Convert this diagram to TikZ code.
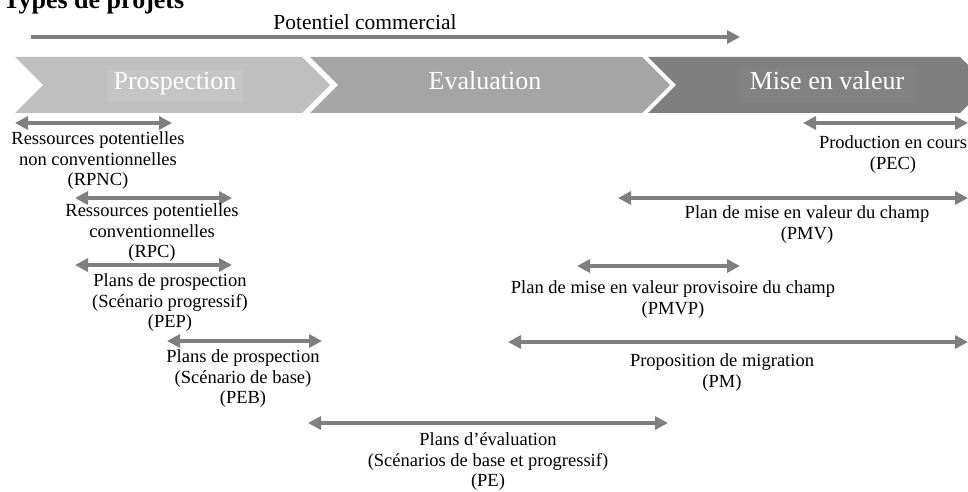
\documentclass[tikz,border=0pt]{standalone}
\usepackage{fontspec}
\setmainfont{Liberation Serif}
\usetikzlibrary{arrows.meta}

\definecolor{spangray}{HTML}{7F7F7F}
\definecolor{phaseA}{HTML}{BFBFBF}
\definecolor{phaseAbox}{HTML}{C5C5C5}
\definecolor{phaseB}{HTML}{A5A5A5}
\definecolor{phaseC}{HTML}{7F7F7F}
\definecolor{phaseCbox}{HTML}{828282}

\tikzset{
  span/.style={draw=spangray, line width=4.5pt,
    {Triangle[length=13pt,width=13pt]}-{Triangle[length=13pt,width=13pt]}},
  onearrow/.style={draw=spangray, line width=4.5pt,
    -{Triangle[length=13pt,width=13pt]}},
  phase/.style={draw=none},
  phaselabel/.style={text=white, inner sep=0pt, anchor=base,
    font=\fontsize{26}{30}\selectfont},
  lab/.style={align=center, anchor=north, inner sep=0pt,
    font=\fontsize{18.5}{20.5}\selectfont, execute at begin node=\strut},
}

\begin{document}
\begin{tikzpicture}[x=1pt, y=-1pt]
\useasboundingbox (0,0) rectangle (968,492);
\clip (0,0) rectangle (968,492);

% title
\node[anchor=base west, inner sep=0pt, font=\fontsize{26}{30}\selectfont\bfseries]
  (title) at (3,9) {Types de projets};

% commercial potential arrow
\node[anchor=base, inner sep=0pt, font=\fontsize{21.5}{25}\selectfont]
  (potentiel) at (365,30) {Potentiel commercial};
\coordinate (potL) at (31,37);
\coordinate (potR) at (740,37);
\draw[onearrow] (potL) -- (potR);

% phase chevrons
\fill[phaseA] (15,57) -- (302,57) -- (330,85) -- (302,113) -- (15,113) -- (43,85) -- cycle;
\fill[phaseB] (310,57) -- (642,57) -- (670,85) -- (642,113) -- (310,113) -- (338,85) -- cycle;
\fill[phaseC] (648,57) -- (960,57) -- (988,85) -- (960,113) -- (648,113) -- (676,85) -- cycle;
\fill[phaseAbox] (107,70) rectangle (243,102);
\fill[phaseCbox] (740,68) rectangle (915,103);
\node[phaselabel] (prosp) at (175,90) {Prospection};
\node[phaselabel] (eval) at (485,90) {Evaluation};
\node[phaselabel] (miseval) at (827,90) {Mise en valeur};

% span end points
\coordinate (rpncL) at (15,123);  \coordinate (rpncR) at (172,123);
\coordinate (rpcL)  at (75,198);  \coordinate (rpcR)  at (232,198);
\coordinate (pepL)  at (75,265);  \coordinate (pepR)  at (232,265);
\coordinate (pebL)  at (167,341); \coordinate (pebR)  at (322,341);
\coordinate (peL)   at (308,423); \coordinate (peR)   at (668,423);
\coordinate (pecL)  at (803,123); \coordinate (pecR)  at (968,123);
\coordinate (pmvL)  at (618,198); \coordinate (pmvR)  at (968,198);
\coordinate (pmvpL) at (577,266); \coordinate (pmvpR) at (740,266);
\coordinate (pmL)   at (508,342); \coordinate (pmR)   at (968,342);

\draw[span] (rpncL) -- (rpncR);
\draw[span] (rpcL) -- (rpcR);
\draw[span] (pepL) -- (pepR);
\draw[span] (pebL) -- (pebR);
\draw[span] (peL) -- (peR);
\draw[span] (pecL) -- (pecR);
\draw[span] (pmvL) -- (pmvR);
\draw[span] (pmvpL) -- (pmvpR);
\draw[span] (pmL) -- (pmR);

% labels
\node[lab] (rpnc) at (98,131.7) {Ressources potentielles\\non conventionnelles\\(RPNC)};
\node[lab] (rpc) at (152,203.7) {Ressources potentielles\\conventionnelles\\(RPC)};
\node[lab] (pep) at (170,273.7) {Plans de prospection\\(Scénario progressif)\\(PEP)};
\node[lab] (peb) at (243,349.7) {Plans de prospection\\(Scénario de base)\\(PEB)};
\node[lab] (pe) at (488,432.7) {Plans d’évaluation\\(Scénarios de base et progressif)\\(PE)};
\node[lab] (pec) at (893,135.7) {Production en cours\\(PEC)};
\node[lab] (pmv) at (807,205.7) {Plan de mise en valeur du champ\\(PMV)};
\node[lab] (pmvp) at (673,280.7) {Plan de mise en valeur provisoire du champ\\(PMVP)};
\node[lab] (pm) at (722,353.7) {Proposition de migration\\(PM)};
\end{tikzpicture}
\end{document}
